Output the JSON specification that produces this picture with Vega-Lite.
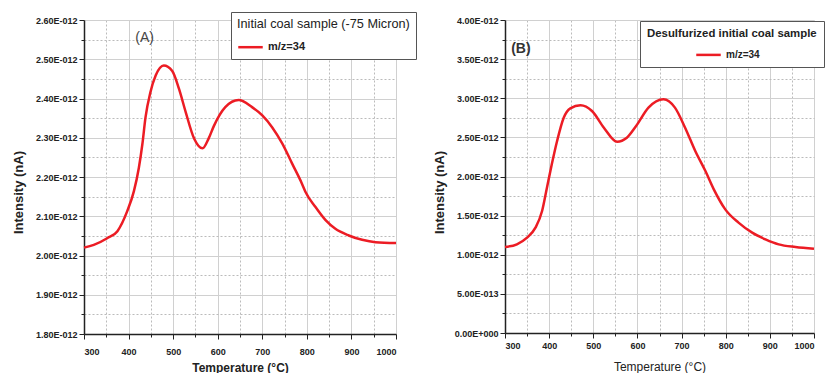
{
  "$schema": "https://vega.github.io/schema/vega-lite/v6.json",
  "background": "white",
  "padding": {"left": 12, "top": 11, "right": 0, "bottom": 0},
  "bounds": "flush",
  "spacing": 109,
  "config": {
    "view": {"stroke": null},
    "font": "Liberation Sans",
    "axis": {
      "domainColor": "#222",
      "domainWidth": 1.5,
      "tickColor": "#222",
      "tickCount": 100,
      "labelFont": "Liberation Sans",
      "labelFontWeight": "bold",
      "labelFontSize": 9,
      "labelColor": "#222",
      "labelOverlap": false,
      "titleFont": "Liberation Sans",
      "titleFontWeight": "bold",
      "titleColor": "#222",
      "gridWidth": 1
    }
  },
  "datasets": {
    "a": [
      {"t": 300, "v": 2.020e-12}, {"t": 322, "v": 2.027e-12}, {"t": 352, "v": 2.044e-12}, {"t": 375, "v": 2.062e-12},
      {"t": 397, "v": 2.113e-12}, {"t": 412, "v": 2.164e-12}, {"t": 423, "v": 2.223e-12}, {"t": 431, "v": 2.284e-12},
      {"t": 438, "v": 2.352e-12}, {"t": 449, "v": 2.416e-12}, {"t": 461, "v": 2.459e-12}, {"t": 479, "v": 2.484e-12},
      {"t": 498, "v": 2.470e-12}, {"t": 513, "v": 2.425e-12}, {"t": 528, "v": 2.366e-12}, {"t": 547, "v": 2.298e-12},
      {"t": 566, "v": 2.273e-12}, {"t": 580, "v": 2.299e-12}, {"t": 591, "v": 2.329e-12}, {"t": 617, "v": 2.378e-12},
      {"t": 647, "v": 2.396e-12}, {"t": 677, "v": 2.378e-12}, {"t": 700, "v": 2.357e-12},
      {"t": 722, "v": 2.327e-12}, {"t": 745, "v": 2.285e-12}, {"t": 767, "v": 2.234e-12}, {"t": 789, "v": 2.183e-12},
      {"t": 797, "v": 2.162e-12}, {"t": 819, "v": 2.124e-12}, {"t": 842, "v": 2.090e-12}, {"t": 864, "v": 2.068e-12},
      {"t": 894, "v": 2.051e-12}, {"t": 924, "v": 2.040e-12}, {"t": 954, "v": 2.034e-12}, {"t": 1000, "v": 2.032e-12}
    ],
    "b": [
      {"t": 300, "v": 1.099e-12}, {"t": 327, "v": 1.134e-12}, {"t": 350, "v": 1.218e-12}, {"t": 369, "v": 1.346e-12},
      {"t": 384, "v": 1.559e-12}, {"t": 395, "v": 1.857e-12}, {"t": 406, "v": 2.156e-12}, {"t": 418, "v": 2.454e-12},
      {"t": 433, "v": 2.751e-12}, {"t": 448, "v": 2.871e-12}, {"t": 471, "v": 2.910e-12}, {"t": 497, "v": 2.837e-12},
      {"t": 524, "v": 2.624e-12}, {"t": 554, "v": 2.445e-12}, {"t": 576, "v": 2.496e-12}, {"t": 597, "v": 2.645e-12},
      {"t": 625, "v": 2.880e-12}, {"t": 659, "v": 2.987e-12}, {"t": 685, "v": 2.880e-12}, {"t": 708, "v": 2.624e-12},
      {"t": 731, "v": 2.326e-12}, {"t": 754, "v": 2.070e-12}, {"t": 773, "v": 1.836e-12}, {"t": 799, "v": 1.580e-12},
      {"t": 829, "v": 1.410e-12}, {"t": 860, "v": 1.282e-12}, {"t": 890, "v": 1.197e-12}, {"t": 920, "v": 1.133e-12},
      {"t": 958, "v": 1.099e-12}, {"t": 1000, "v": 1.077e-12}
    ],
    "la": [{"t": 436, "v": 2.555e-12, "label": "(A)"}],
    "lb": [{"t": 336, "v": 3.63e-12, "label": "(B)"}]
  },
  "hconcat": [
    {
      "width": 312,
      "height": 314,
      "layer": [
        {
          "data": {"name": "a"},
          "mark": {"type": "line", "interpolate": "monotone", "strokeWidth": 2.5},
          "encoding": {
            "x": {
              "field": "t", "type": "quantitative",
              "scale": {"domain": [300, 1000], "nice": false},
              "axis": {
                "title": "Temperature (°C)", "titleFontSize": 12, "titlePadding": 6, "tickCount": 100,
                "values": [300, 350, 400, 450, 500, 550, 600, 650, 700, 750, 800, 850, 900, 950, 1000],
                "labelExpr": "datum.value % 100 == 0 ? format(datum.value, 'd') : ''",
                "labelPadding": 8,
                "tickSize": {"condition": {"test": "datum.value % 100 != 0", "value": 3}, "value": 5},
                "gridDash": {"condition": {"test": "datum.value % 100 != 0", "value": [2, 2]}, "value": []},
                "gridColor": {"condition": {"test": "datum.value % 100 != 0", "value": "#bbbbbb"}, "value": "#d0d0d0"}
              }
            },
            "y": {
              "field": "v", "type": "quantitative",
              "scale": {"domain": [1.8e-12, 2.6e-12], "nice": false, "zero": false},
              "axis": {
                "title": "Intensity (nA)", "titleFontSize": 13, "titlePadding": 10, "titleY": 172, "tickCount": 100,
                "values": [1.8e-12, 1.85e-12, 1.9e-12, 1.95e-12, 2.0e-12, 2.05e-12, 2.1e-12, 2.15e-12, 2.2e-12, 2.25e-12, 2.3e-12, 2.35e-12, 2.4e-12, 2.45e-12, 2.5e-12, 2.55e-12, 2.6e-12],
                "labelExpr": "round(datum.value*2e13) % 2 == 1 ? '' : format(datum.value*1e12, '.2f') + 'E-012'",
                "tickSize": {"condition": {"test": "round(datum.value*2e13) % 2 == 1", "value": 3}, "value": 5},
                "gridDash": {"condition": {"test": "round(datum.value*2e13) % 2 == 1", "value": [2, 2]}, "value": []},
                "gridColor": {"condition": {"test": "round(datum.value*2e13) % 2 == 1", "value": "#bbbbbb"}, "value": "#d0d0d0"}
              }
            },
            "color": {
              "datum": "m/z=34", "type": "nominal",
              "scale": {"domain": ["m/z=34"], "range": ["#ec1c24"]},
              "legend": {
                "title": "Initial coal sample (-75 Micron)",
                "orient": "none", "legendX": 147, "legendY": -8,
                "strokeColor": "#555", "fillColor": "white", "padding": 6,
                "titleFontSize": 12.7, "titleFontWeight": "normal", "titleColor": "#222", "titlePadding": 3,
                "labelFontSize": 11, "labelColor": "#222", "labelFontWeight": "bold",
                "symbolType": "stroke", "symbolStrokeWidth": 2.5, "symbolSize": 600,
                "rowPadding": 2
              }
            }
          }
        },
        {
          "data": {"name": "la"},
          "mark": {"type": "text", "fontSize": 14, "color": "#444", "font": "Liberation Sans"},
          "encoding": {
            "x": {"field": "t", "type": "quantitative"},
            "y": {"field": "v", "type": "quantitative"},
            "text": {"field": "label"}
          }
        }
      ]
    },
    {
      "width": 309,
      "height": 313,
      "layer": [
        {
          "data": {"name": "b"},
          "mark": {"type": "line", "interpolate": "monotone", "strokeWidth": 2.5},
          "encoding": {
            "x": {
              "field": "t", "type": "quantitative",
              "scale": {"domain": [300, 1000], "nice": false},
              "axis": {
                "title": "Temperature (°C)", "titleFontSize": 12, "titleFontWeight": "normal", "titlePadding": 11, "tickCount": 100,
                "values": [300, 350, 400, 450, 500, 550, 600, 650, 700, 750, 800, 850, 900, 950, 1000],
                "labelExpr": "datum.value % 100 == 0 ? format(datum.value, 'd') : ''",
                "labelPadding": 3,
                "tickSize": {"condition": {"test": "datum.value % 100 != 0", "value": 3}, "value": 5},
                "gridDash": {"condition": {"test": "datum.value % 100 != 0", "value": [2, 2]}, "value": []},
                "gridColor": {"condition": {"test": "datum.value % 100 != 0", "value": "#bbbbbb"}, "value": "#d0d0d0"}
              }
            },
            "y": {
              "field": "v", "type": "quantitative",
              "scale": {"domain": [0, 4e-12], "nice": false},
              "axis": {
                "title": "Intensity (nA)", "titleFontSize": 13, "titlePadding": 8, "titleY": 172, "tickCount": 100,
                "values": [0, 2.5e-13, 5e-13, 7.5e-13, 1e-12, 1.25e-12, 1.5e-12, 1.75e-12, 2e-12, 2.25e-12, 2.5e-12, 2.75e-12, 3e-12, 3.25e-12, 3.5e-12, 3.75e-12, 4e-12],
                "labelExpr": "round(datum.value*4e12) % 2 == 1 ? '' : datum.value == 0 ? '0.00E+000' : datum.value < 9e-13 ? format(datum.value*1e13, '.2f') + 'E-013' : format(datum.value*1e12, '.2f') + 'E-012'",
                "tickSize": {"condition": {"test": "round(datum.value*4e12) % 2 == 1", "value": 3}, "value": 5},
                "gridDash": {"condition": {"test": "round(datum.value*4e12) % 2 == 1", "value": [2, 2]}, "value": []},
                "gridColor": {"condition": {"test": "round(datum.value*4e12) % 2 == 1", "value": "#bbbbbb"}, "value": "#d0d0d0"}
              }
            },
            "color": {
              "datum": "m/z=34", "type": "nominal",
              "scale": {"domain": ["m/z=34"], "range": ["#ec1c24"]},
              "legend": {
                "title": "Desulfurized initial coal sample",
                "orient": "none", "legendX": 135, "legendY": 1,
                "strokeColor": "#555", "fillColor": "white", "padding": 7,
                "titleFontSize": 11.4, "titleFontWeight": "bold", "titleColor": "#222", "titlePadding": 2,
                "labelFontSize": 10, "labelColor": "#222", "labelFontWeight": "bold",
                "symbolType": "stroke", "symbolStrokeWidth": 2.5, "symbolSize": 600, "symbolOffset": 48,
                "rowPadding": 1
              }
            }
          }
        },
        {
          "data": {"name": "lb"},
          "mark": {"type": "text", "fontSize": 14, "fontWeight": "bold", "color": "#333", "font": "Liberation Sans"},
          "encoding": {
            "x": {"field": "t", "type": "quantitative"},
            "y": {"field": "v", "type": "quantitative"},
            "text": {"field": "label"}
          }
        }
      ]
    }
  ],
  "resolve": {"scale": {"color": "independent"}, "legend": {"color": "independent"}}
}
